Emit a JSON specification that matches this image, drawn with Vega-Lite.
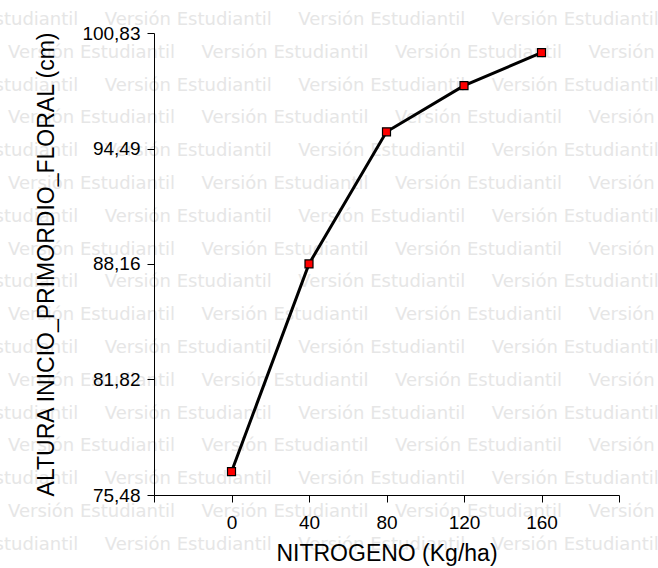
{
  "$schema": "https://vega.github.io/schema/vega-lite/v6.json",
  "autosize": "none",
  "width": 465,
  "height": 462,
  "padding": {"left": 154, "top": 33, "right": 39, "bottom": 73},
  "background": "white",
  "config": {
    "view": {"stroke": null},
    "axis": {
      "labelFont": "Liberation Sans",
      "titleFont": "Liberation Sans",
      "labelFontSize": 19,
      "titleFontSize": 23,
      "titleFontWeight": "normal",
      "labelColor": "black",
      "titleColor": "black",
      "domainColor": "black",
      "tickColor": "black",
      "domainWidth": 1,
      "tickWidth": 1,
      "tickSize": 7,
      "grid": false
    }
  },
  "datasets": {
    "d": [
      {"N": 0, "H": 76.76},
      {"N": 40, "H": 88.16},
      {"N": 80, "H": 95.41},
      {"N": 120, "H": 97.94},
      {"N": 160, "H": 99.75}
    ],
    "wm": [
      {"r": 0, "c": -0.5}, {"r": 0, "c": 0.5}, {"r": 0, "c": 1.5}, {"r": 0, "c": 2.5},
      {"r": 1, "c": 0}, {"r": 1, "c": 1}, {"r": 1, "c": 2}, {"r": 1, "c": 3},
      {"r": 2, "c": -0.5}, {"r": 2, "c": 0.5}, {"r": 2, "c": 1.5}, {"r": 2, "c": 2.5},
      {"r": 3, "c": 0}, {"r": 3, "c": 1}, {"r": 3, "c": 2}, {"r": 3, "c": 3},
      {"r": 4, "c": -0.5}, {"r": 4, "c": 0.5}, {"r": 4, "c": 1.5}, {"r": 4, "c": 2.5},
      {"r": 5, "c": 0}, {"r": 5, "c": 1}, {"r": 5, "c": 2}, {"r": 5, "c": 3},
      {"r": 6, "c": -0.5}, {"r": 6, "c": 0.5}, {"r": 6, "c": 1.5}, {"r": 6, "c": 2.5},
      {"r": 7, "c": 0}, {"r": 7, "c": 1}, {"r": 7, "c": 2}, {"r": 7, "c": 3},
      {"r": 8, "c": -0.5}, {"r": 8, "c": 0.5}, {"r": 8, "c": 1.5}, {"r": 8, "c": 2.5},
      {"r": 9, "c": 0}, {"r": 9, "c": 1}, {"r": 9, "c": 2}, {"r": 9, "c": 3},
      {"r": 10, "c": -0.5}, {"r": 10, "c": 0.5}, {"r": 10, "c": 1.5}, {"r": 10, "c": 2.5},
      {"r": 11, "c": 0}, {"r": 11, "c": 1}, {"r": 11, "c": 2}, {"r": 11, "c": 3},
      {"r": 12, "c": -0.5}, {"r": 12, "c": 0.5}, {"r": 12, "c": 1.5}, {"r": 12, "c": 2.5},
      {"r": 13, "c": 0}, {"r": 13, "c": 1}, {"r": 13, "c": 2}, {"r": 13, "c": 3},
      {"r": 14, "c": -0.5}, {"r": 14, "c": 0.5}, {"r": 14, "c": 1.5}, {"r": 14, "c": 2.5},
      {"r": 15, "c": 0}, {"r": 15, "c": 1}, {"r": 15, "c": 2}, {"r": 15, "c": 3},
      {"r": 16, "c": -0.5}, {"r": 16, "c": 0.5}, {"r": 16, "c": 1.5}, {"r": 16, "c": 2.5}
    ]
  },
  "layer": [
    {
      "data": {"name": "wm"},
      "mark": {"type": "text", "text": "Versión Estudiantil", "align": "left", "baseline": "middle", "font": "DejaVu Sans", "fontSize": 18, "color": "#e6e6e6"},
      "encoding": {
        "x": {"field": "c", "type": "quantitative", "axis": null, "scale": {"domain": [0.75452, 3.15762], "nice": false, "zero": false}},
        "y": {"field": "r", "type": "quantitative", "axis": null, "scale": {"domain": [0.39634, 14.48171], "nice": false, "zero": false, "reverse": true}}
      }
    },
    {
      "data": {"name": "d"},
      "encoding": {
        "x": {
          "field": "N", "type": "quantitative",
          "scale": {"domain": [-40, 200], "nice": false, "zero": false},
          "axis": {
            "title": "NITROGENO (Kg/ha)",
            "values": [-40, 0, 40, 80, 120, 160, 200],
            "labelExpr": "datum.value < 0 || datum.value > 160 ? '' : datum.label",
            "labelPadding": 11,
            "titlePadding": 10,
            "zindex": 2
          }
        },
        "y": {
          "field": "H", "type": "quantitative",
          "scale": {"domain": [75.48, 100.83], "nice": false, "zero": false},
          "axis": {
            "title": "ALTURA INICIO_PRIMORDIO_FLORAL (cm)",
            "values": [75.48, 81.82, 88.16, 94.49, 100.83],
            "labelExpr": "replace(format(datum.value, '.2f'), '.', ',')",
            "labelPadding": 7,
            "titlePadding": 23,
            "zindex": 2
          }
        }
      },
      "layer": [
        {"mark": {"type": "line", "color": "black", "strokeWidth": 3}},
        {"mark": {"type": "point", "shape": "square", "size": 64, "filled": true, "fill": "#ff0000", "stroke": "black", "strokeWidth": 1.2, "opacity": 1}}
      ]
    }
  ],
  "resolve": {"scale": {"x": "independent", "y": "independent"}}
}
